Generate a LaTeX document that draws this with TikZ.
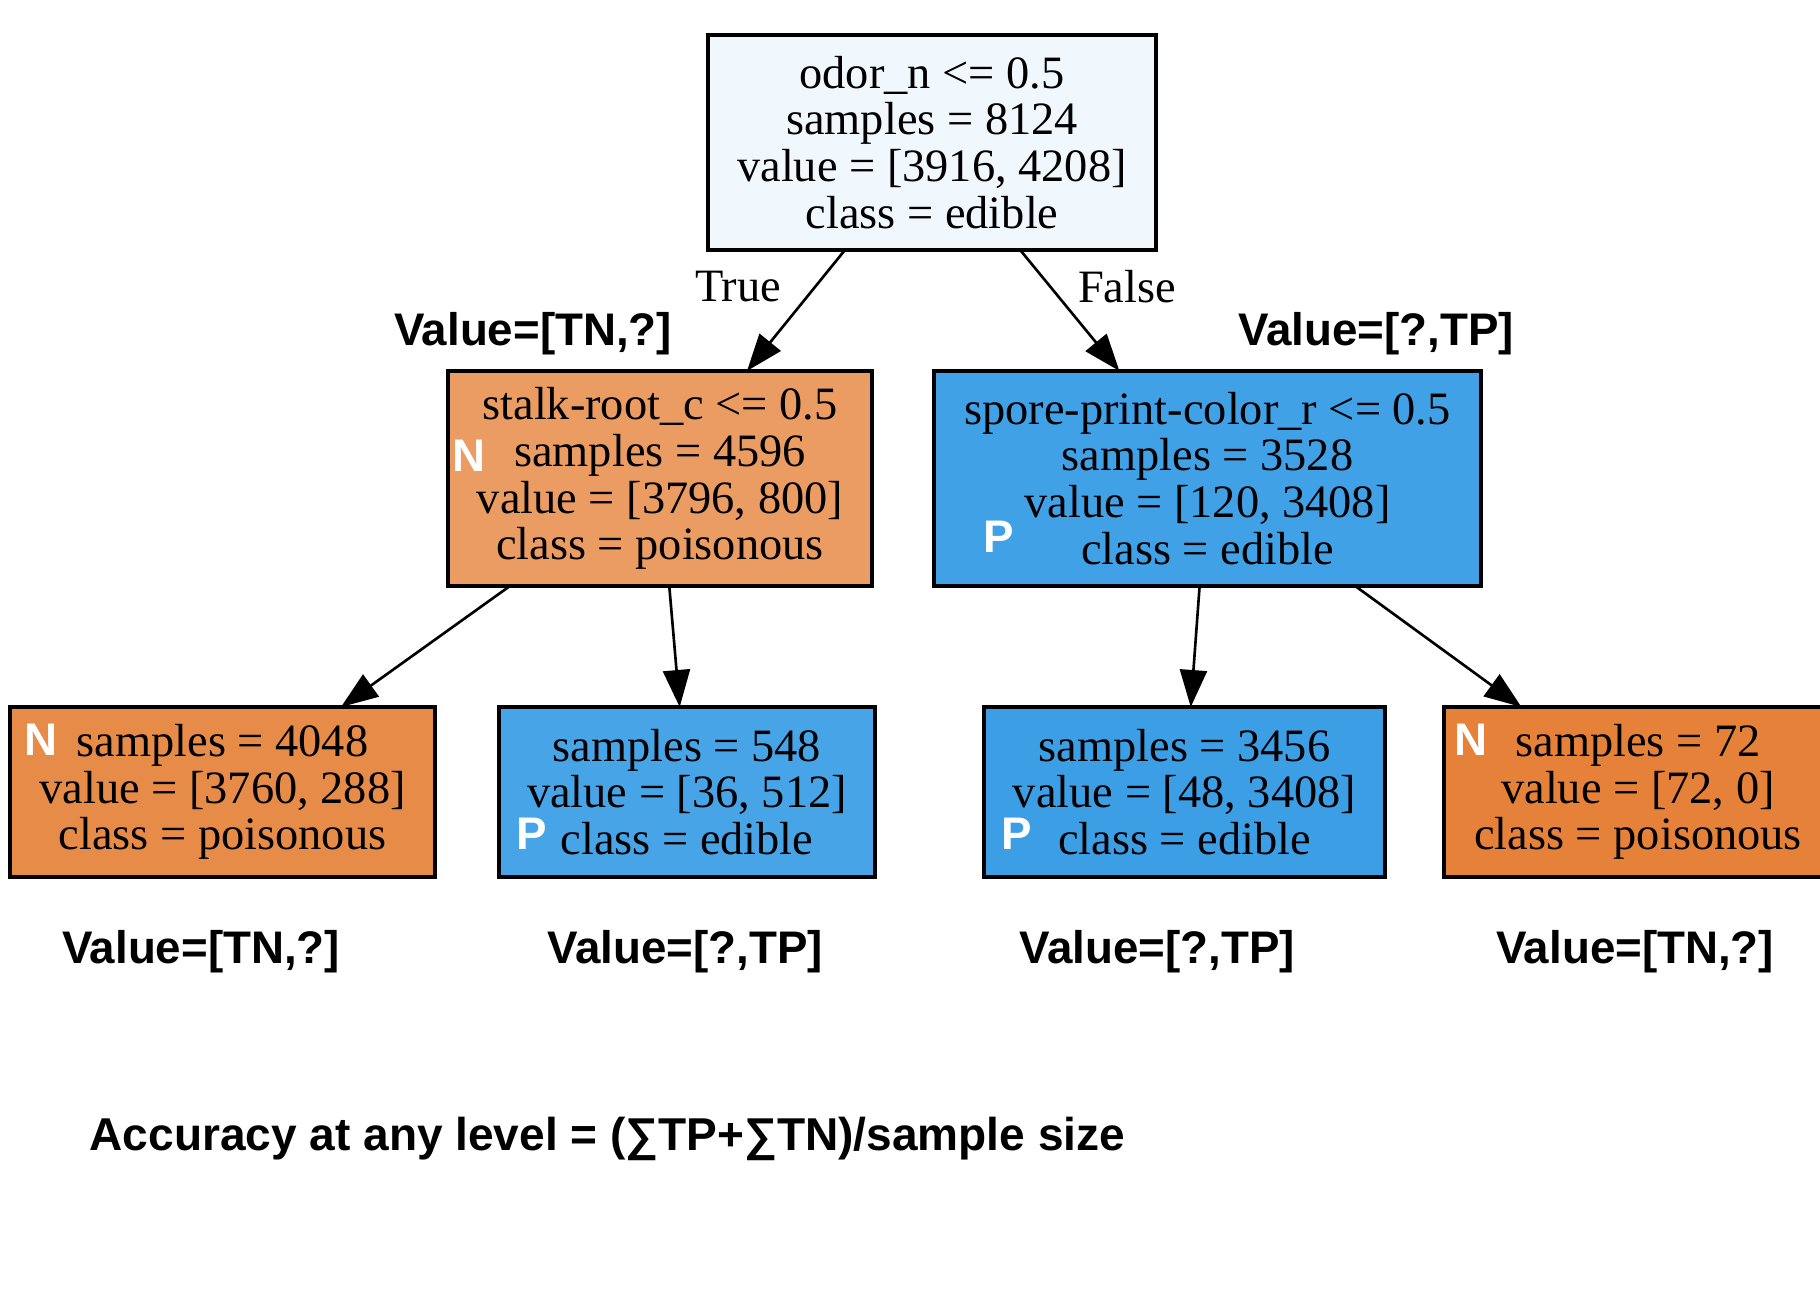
\documentclass[tikz,border=0pt]{standalone}
\usepackage{fontspec}
\setmainfont{Liberation Serif}
\newfontfamily\labelfont{Liberation Sans}
\usetikzlibrary{arrows.meta,positioning}
\definecolor{rootblue}{RGB}{241,248,253}
\definecolor{halforange}{RGB}{235,156,99}
\definecolor{deepblue}{RGB}{64,161,230}
\definecolor{leaforange}{RGB}{231,139,72}
\definecolor{leafblue}{RGB}{71,165,231}
\definecolor{pureblue}{RGB}{60,159,229}
\definecolor{pureorange}{RGB}{229,129,57}
\tikzset{
  >={Triangle[length=3.7mm,width=2.7mm]},
  split/.style={draw=black,fill=#1,line width=0.9pt,inner sep=0pt,outer sep=0pt,
    minimum height=21.5mm,align=center,font=\fontsize{13.2}{13.3}\selectfont},
  split/.default=rootblue,
  leaf/.style={split=#1,minimum height=17mm},
  flow/.style={->,line width=0.75pt,draw=black},
  edge tag/.style={font=\fontsize{13.2}{13.3}\selectfont},
  cls tag/.style={text=white,font=\labelfont\bfseries\fontsize{13}{13}\selectfont,inner sep=0pt},
  value tag/.style={font=\labelfont\bfseries\fontsize{13}{13}\selectfont,inner sep=0pt},
}
\begin{document}
\begin{tikzpicture}[x=0.1mm,y=-0.1mm]
    \useasboundingbox (0,0) rectangle (1820,1304);
    % tree nodes
    \node[split=rootblue,minimum width=44.8mm] (root) at (932,142.5)
      {odor\_n <= 0.5\\samples = 8124\\value = [3916, 4208]\\class = edible};
    \node[split=halforange,minimum width=42.4mm] (stalk) at (660,478.5)
      {stalk-root\_c <= 0.5\\samples = 4596\\value = [3796, 800]\\class = poisonous};
    \node[split=deepblue,minimum width=54.7mm] (spore) at (1207.5,478.5)
      {spore-print-color\_r <= 0.5\\samples = 3528\\value = [120, 3408]\\class = edible};
    \node[leaf=leaforange,minimum width=42.5mm] (leafA) at (222.5,792)
      {samples = 4048\\value = [3760, 288]\\class = poisonous};
    \node[leaf=leafblue,minimum width=37.6mm] (leafB) at (687,792)
      {samples = 548\\value = [36, 512]\\class = edible};
    \node[leaf=pureblue,minimum width=40.1mm] (leafC) at (1184.5,792)
      {samples = 3456\\value = [48, 3408]\\class = edible};
    \node[leaf=pureorange,minimum width=38.8mm] (leafD) at (1638,792)
      {samples = 72\\value = [72, 0]\\class = poisonous};
    % connectors
    \draw[flow] (root) -- (stalk);
    \draw[flow] (root) -- (spore);
    \draw[flow] (stalk) -- (leafA);
    \draw[flow] (stalk) -- (leafB);
    \draw[flow] (spore) -- (leafC);
    \draw[flow] (spore) -- (leafD);
    \node[edge tag] (true) at (738,287) {True};
    \node[edge tag] (false) at (1127,287) {False};
    % N / P markers
    \node[cls tag] (nStalk) at (469,456) {N};
    \node[cls tag] (pSpore) at (999,537) {P};
    \node[cls tag] (nA) at (41,740) {N};
    \node[cls tag] (pB) at (532,834) {P};
    \node[cls tag] (pC) at (1017,834) {P};
    \node[cls tag] (nD) at (1471,740) {N};
    % value annotations
    \node[value tag] (vStalk) at (533,334) {Value=[TN,?]};
    \node[value tag] (vSpore) at (1376,334) {Value=[?,TP]};
    \foreach \x/\t [count=\i] in {201/{[TN,?]},685/{[?,TP]},1157/{[?,TP]},1635/{[TN,?]}}
      \node[value tag] (vLeaf\i) at (\x,952) {Value=\t};
    \node[value tag,anchor=west,font=\labelfont\bfseries\fontsize{13.1}{13.1}\selectfont] (accuracy) at (89,1139) {Accuracy at any level = (∑TP+∑TN)/sample size};
  \end{tikzpicture}
\end{document}
